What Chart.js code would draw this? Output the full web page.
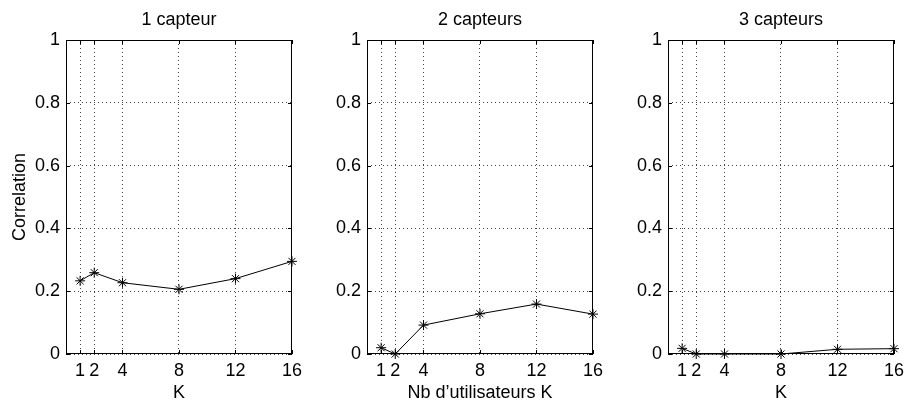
<!DOCTYPE html>
<html>
<head>
<meta charset="utf-8">
<script src="https://cdn.jsdelivr.net/npm/chart.js@4.4.1/dist/chart.umd.min.js"></script>
<style>
  html, body { margin: 0; padding: 0; background: #fff; }
  #wrap { position: relative; width: 910px; height: 404px; overflow: hidden; }
  .panel { position: absolute; top: 0; width: 308px; height: 404px; }
</style>
</head>
<body>
<div id="wrap">
  <div class="panel" style="left:0px"><canvas id="c1" width="308" height="404"></canvas></div>
  <div class="panel" style="left:301px"><canvas id="c2" width="308" height="404"></canvas></div>
  <div class="panel" style="left:602px"><canvas id="c3" width="308" height="404"></canvas></div>
</div>
<script>
// ---- data ----
const kValues = [1, 2, 4, 8, 12, 16];
const corr1Capteur = [0.233, 0.259, 0.227, 0.206, 0.240, 0.295];
const corr2Capteurs = [0.020, 0.000, 0.092, 0.128, 0.159, 0.127];
const corr3Capteurs = [0.018, 0.000, 0.000, 0.000, 0.015, 0.017];
const xTickValues = [1, 2, 4, 8, 12, 16];
const yTickValues = [0, 0.2, 0.4, 0.6, 0.8, 1];
const panelTitles = ["1 capteur", "2 capteurs", "3 capteurs"];
const xTitles = ["K", "Nb d\u2019utilisateurs K", "K"];
const yTitle = "Correlation";

const FONT = "'Liberation Sans', Arial, Helvetica, sans-serif";
const FONT_SIZE = 18;

// MATLAB-like frame: full box with inward ticks + panel title
const boxPlugin = {
    id: "box",
    afterDraw(chart, args, opts) {
        const { ctx, chartArea: a } = chart;
        const xs = chart.scales.x;
        const ys = chart.scales.y;
        ctx.save();
        ctx.strokeStyle = "#000";
        ctx.lineWidth = 1;
        ctx.strokeRect(a.left + 0.5, a.top + 0.5, a.right - a.left - 1, a.bottom - a.top - 1);
        // inward tick marks
        const tl = 4;
        ctx.beginPath();
        xTickValues.forEach((v) => {
            const px = Math.round(xs.getPixelForValue(v)) + 0.5;
            ctx.moveTo(px, a.bottom);
            ctx.lineTo(px, a.bottom - tl);
            ctx.moveTo(px, a.top);
            ctx.lineTo(px, a.top + tl);
        });
        yTickValues.forEach((v) => {
            const py = Math.round(ys.getPixelForValue(v)) + 0.5;
            ctx.moveTo(a.left, py);
            ctx.lineTo(a.left + tl, py);
            ctx.moveTo(a.right, py);
            ctx.lineTo(a.right - tl, py);
        });
        ctx.stroke();
        // title
        ctx.fillStyle = "#000";
        ctx.font = `${FONT_SIZE}px ${FONT}`;
        ctx.textAlign = "center";
        ctx.textBaseline = "alphabetic";
        ctx.fillText(opts.text, (a.left + a.right) / 2, 25);
        ctx.restore();
    },
};

function makePanel(canvasId, values, title, xTitle, showYTitle) {
    const points = kValues.map((k, i) => ({ x: k, y: values[i] }));
    return new Chart(document.getElementById(canvasId), {
        type: "line",
        data: {
            datasets: [
                {
                    data: points,
                    borderColor: "#000",
                    borderWidth: 1,
                    tension: 0,
                    fill: false,
                    clip: false,
                    pointStyle: "star",
                    pointRadius: 5,
                    pointBorderColor: "#000",
                    pointBackgroundColor: "#000",
                    pointBorderWidth: 1,
                },
            ],
        },
        options: {
            responsive: false,
            animation: false,
            devicePixelRatio: 1,
            layout: { padding: { top: 40, right: 14, left: 0, bottom: 0 } },
            plugins: {
                legend: { display: false },
                tooltip: { enabled: false },
                box: { text: title },
            },
            scales: {
                x: {
                    type: "linear",
                    min: 0,
                    max: 16,
                    afterBuildTicks: (s) => {
                        s.ticks = xTickValues.map((v) => ({ value: v }));
                    },
                    afterFit: (s) => {
                        s.height = 50;
                    },
                    grid: { color: "#444", lineWidth: 1, drawTicks: false },
                    border: { display: false, dash: [1, 3] },
                    ticks: {
                        color: "#000",
                        padding: 6,
                        maxRotation: 0,
                        autoSkip: false,
                        font: { family: FONT, size: FONT_SIZE },
                    },
                    title: {
                        display: true,
                        text: xTitle,
                        color: "#000",
                        padding: { top: 0, bottom: 0 },
                        font: { family: FONT, size: FONT_SIZE },
                    },
                },
                y: {
                    min: 0,
                    max: 1,
                    afterBuildTicks: (s) => {
                        s.ticks = yTickValues.map((v) => ({ value: v }));
                    },
                    afterFit: (s) => {
                        s.width = 66;
                    },
                    grid: { color: "#444", lineWidth: 1, drawTicks: false },
                    border: { display: false, dash: [1, 3] },
                    ticks: {
                        color: "#000",
                        padding: 6,
                        font: { family: FONT, size: FONT_SIZE },
                        callback: (v) => String(Number(v.toFixed(1))),
                    },
                    title: {
                        display: showYTitle,
                        text: yTitle,
                        color: "#000",
                        padding: { top: 9, bottom: 0 },
                        font: { family: FONT, size: FONT_SIZE },
                    },
                },
            },
        },
        plugins: [boxPlugin],
    });
}

makePanel("c1", corr1Capteur, panelTitles[0], xTitles[0], true);
makePanel("c2", corr2Capteurs, panelTitles[1], xTitles[1], false);
makePanel("c3", corr3Capteurs, panelTitles[2], xTitles[2], false);
</script>
</body>
</html>
